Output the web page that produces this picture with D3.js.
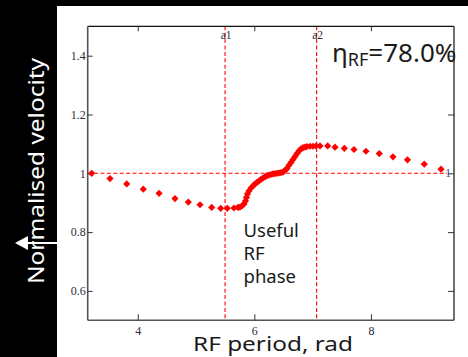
<!DOCTYPE html>
<html>
<head>
<meta charset="utf-8">
<script src="https://cdn.jsdelivr.net/npm/d3@7"></script>
<style>
  html, body { margin: 0; padding: 0; background: #000; }
  svg { display: block; }
</style>
</head>
<body>
<svg id="chart" width="468" height="357"></svg>
<script>
// Particle arrival phase (rad) and normalised velocity
const phase = [
  3.210, 3.524, 3.811, 4.095, 4.365, 4.639, 4.867, 5.068, 5.269, 5.423, 5.536, 5.651,
  5.720, 5.754, 5.788, 5.823, 5.848, 5.865, 5.882, 5.908, 5.943, 5.977, 6.011, 6.046,
  6.080, 6.114, 6.148, 6.183, 6.217, 6.251, 6.286, 6.320, 6.354, 6.389, 6.423, 6.457,
  6.492, 6.526, 6.560, 6.594, 6.629, 6.663, 6.697, 6.732, 6.766, 6.800, 6.835, 6.869,
  6.903, 6.955, 7.006, 7.058,
  7.126, 7.258, 7.384, 7.543, 7.709, 7.915, 8.143, 8.378, 8.627, 8.915, 9.202
];
const velocity = [
  1.000, 0.982, 0.964, 0.946, 0.932, 0.914, 0.902, 0.893, 0.884, 0.881, 0.881, 0.882,
  0.884, 0.885, 0.889, 0.896, 0.906, 0.918, 0.930, 0.940, 0.950, 0.957, 0.964, 0.969,
  0.974, 0.979, 0.984, 0.988, 0.992, 0.994, 0.996, 0.998, 0.999, 1.000, 1.001, 1.002,
  1.004, 1.010, 1.016, 1.027, 1.037, 1.047, 1.057, 1.067, 1.076, 1.083, 1.087, 1.089,
  1.091, 1.092, 1.092, 1.093,
  1.093, 1.093, 1.089, 1.085, 1.081, 1.075, 1.067, 1.056, 1.046, 1.031, 1.014
];

// Useful RF phase window markers
const markerNames = ["a1", "a2"];
const markerPhase = [1.75 * Math.PI, 2.25 * Math.PI];
const referenceLevel = 1;

const xTicks = [4, 6, 8];
const yTicks = [0.6, 0.8, 1.0, 1.2, 1.4];
const yTickLabels = ["0.6", "0.8", "1", "1.2", "1.4"];

const xTitle = "RF period, rad";
const yTitle = "Normalised velocity";
const noteLines = ["Useful", "RF", "phase"];

const svg = d3.select("#chart");

// white slide panel over black background
svg.append("rect").attr("x", 0).attr("y", 0).attr("width", 468).attr("height", 357).attr("fill", "#000");
svg.append("rect").attr("x", 57).attr("y", 6).attr("width", 411).attr("height", 351).attr("fill", "#fff");

const plot = { left: 87.7, right: 454, top: 26.3, bottom: 320.3 };

const x = d3.scaleLinear().domain([Math.PI, 3 * Math.PI]).range([plot.left, plot.right]);
const y = d3.scaleLinear().domain([0.5, 1.5]).range([plot.bottom, plot.top]);

const tickFont = "'Liberation Serif', 'DejaVu Serif', serif";
const tickColor = "#2b2b3c";
const tickSize = 12;

// dashed reference lines
const dash = "4,2.4";
svg.append("line")
  .attr("x1", x(Math.PI)).attr("x2", 447)
  .attr("y1", y(referenceLevel)).attr("y2", y(referenceLevel))
  .attr("stroke", "#f00").attr("stroke-width", 1.1).attr("stroke-dasharray", dash);

svg.selectAll("line.marker").data(markerPhase).enter().append("line")
  .attr("class", "marker")
  .attr("x1", d => x(d)).attr("x2", d => x(d))
  .attr("y1", plot.top).attr("y2", plot.bottom)
  .attr("stroke", "#f00").attr("stroke-width", 1.1).attr("stroke-dasharray", dash);

svg.selectAll("text.marker").data(markerNames).enter().append("text")
  .attr("class", "marker")
  .attr("x", (d, i) => x(markerPhase[i]) + 1)
  .attr("y", 38.5)
  .attr("text-anchor", "middle")
  .attr("font-family", tickFont).attr("font-size", 11.5)
  .attr("fill", tickColor)
  .text(d => d);

// axes: ticks pointing inward on all four sides
const axisColor = "#555";
const bottomAxis = d3.axisBottom(x).tickValues(xTicks).tickSize(-6).tickFormat(d3.format("d")).tickPadding(6);
const topAxis = d3.axisTop(x).tickValues(xTicks).tickSize(-5).tickFormat("");
const leftAxis = d3.axisLeft(y).tickValues(yTicks).tickSize(-5)
  .tickFormat((d, i) => yTickLabels[i]).tickPadding(2);
const rightAxis = d3.axisRight(y).tickValues(yTicks).tickSize(-6).tickFormat("");

function styleAxis(g, color, width) {
  g.select(".domain").attr("stroke", color).attr("stroke-width", width);
  g.selectAll(".tick line").attr("stroke", "#333").attr("stroke-width", 1);
  g.selectAll(".tick text").attr("font-family", tickFont).attr("font-size", tickSize).attr("fill", tickColor);
}

svg.append("g").attr("transform", `translate(0,${plot.bottom})`).call(bottomAxis)
  .call(g => styleAxis(g, axisColor, 1.6)).call(g => g.select(".domain").attr("d", `M${plot.left},0H${plot.right}`));
svg.append("g").attr("transform", `translate(0,${plot.top})`).call(topAxis)
  .call(g => styleAxis(g, "#111", 1.2)).call(g => g.select(".domain").attr("d", `M${plot.left},0H${plot.right}`));
svg.append("g").attr("transform", `translate(${plot.left},0)`).call(leftAxis)
  .call(g => styleAxis(g, axisColor, 1.6)).call(g => g.select(".domain").attr("d", `M0,${plot.top}V${plot.bottom}`));
svg.append("g").attr("transform", `translate(${plot.right},0)`).call(rightAxis)
  .call(g => styleAxis(g, "#333", 1.4)).call(g => g.select(".domain").attr("d", `M0,${plot.top}V${plot.bottom}`));

// level marker label at the right end of the reference line
svg.append("text")
  .attr("x", 448).attr("y", y(referenceLevel) + 4)
  .attr("text-anchor", "middle")
  .attr("font-family", tickFont).attr("font-size", 11.5)
  .attr("fill", "#1f4f8f")
  .text("1");

// data points as red diamonds
const diamond = "M0,-3.6L3.6,0L0,3.6L-3.6,0Z";
svg.append("g").selectAll("path").data(phase).enter().append("path")
  .attr("d", diamond)
  .attr("transform", (d, i) => `translate(${x(d)},${y(velocity[i])})`)
  .attr("fill", "#f00");

// titles
const slideFont = "'Noto Sans', 'Open Sans', sans-serif";

svg.append("text")
  .attr("x", 273).attr("y", 351)
  .attr("text-anchor", "middle")
  .attr("font-family", slideFont).attr("font-size", 20.5)
  .attr("fill", "#1a1a1a")
  .attr("textLength", 160).attr("lengthAdjust", "spacingAndGlyphs")
  .text(xTitle);

svg.append("text")
  .attr("transform", "translate(44,171) rotate(-90)")
  .attr("text-anchor", "middle")
  .attr("font-family", slideFont).attr("font-size", 22)
  .attr("fill", "#fff")
  .attr("textLength", 226).attr("lengthAdjust", "spacingAndGlyphs")
  .text(yTitle);

// white arrow on the left margin
svg.append("line")
  .attr("x1", 26).attr("x2", 57).attr("y1", 243).attr("y2", 243)
  .attr("stroke", "#fff").attr("stroke-width", 2);
svg.append("path")
  .attr("d", "M15,243L28,236L28,250Z")
  .attr("fill", "#fff");

// efficiency label
const eff = svg.append("text")
  .attr("x", 332).attr("y", 62)
  .attr("font-family", slideFont).attr("font-size", 26)
  .attr("fill", "#1a1a1a");
eff.append("tspan").text("η");
eff.append("tspan").attr("font-size", 18).attr("dy", 4).text("RF");
eff.append("tspan").attr("dy", -4).text("=78.0%");

// annotation text
svg.append("g").selectAll("text").data(noteLines).enter().append("text")
  .attr("x", 243.5)
  .attr("y", (d, i) => 237 + i * 23)
  .attr("font-family", slideFont).attr("font-size", 18.5)
  .attr("fill", "#1a1a1a")
  .text(d => d);
</script>
</body>
</html>
